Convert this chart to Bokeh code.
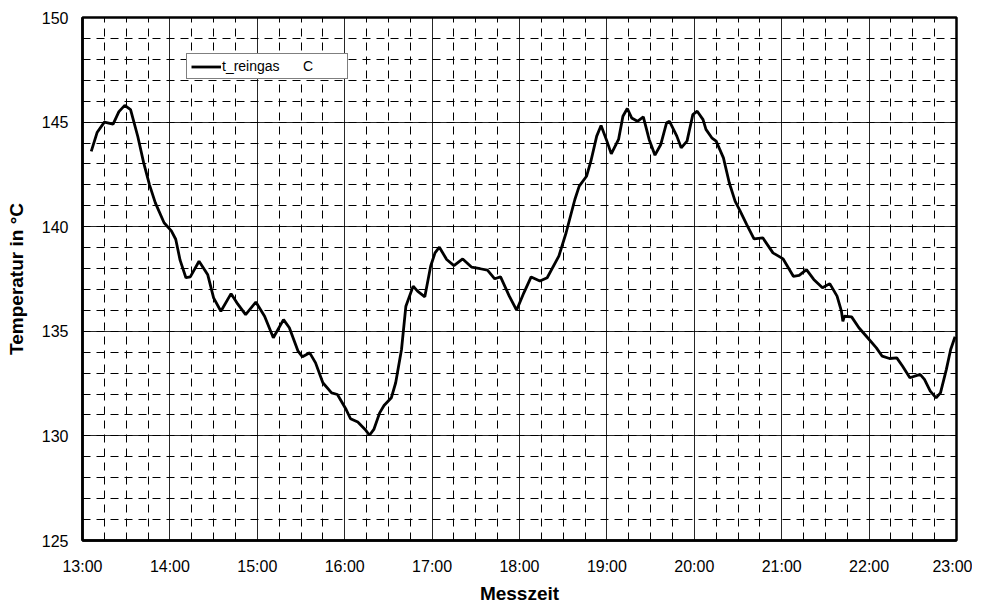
from bokeh.plotting import figure
from bokeh.models import FixedTicker, Range1d
from bokeh.embed import file_html
from bokeh.resources import INLINE

# ---- data ----
times = ["13:06", "13:10", "13:15", "13:21", "13:25", "13:29", "13:33", "13:38", "13:42", "13:46",
         "13:50", "13:56", "14:01", "14:04", "14:07", "14:11", "14:14", "14:20", "14:26", "14:30",
         "14:35", "14:42", "14:46", "14:52", "14:59", "15:05", "15:11", "15:18", "15:22", "15:28",
         "15:31", "15:36", "15:40", "15:45", "15:51", "15:55", "16:01", "16:04", "16:09", "16:14",
         "16:17", "16:20", "16:24", "16:27", "16:32", "16:35", "16:39", "16:42", "16:47", "16:50",
         "16:55", "16:59", "17:02", "17:05", "17:10", "17:15", "17:21", "17:27", "17:33", "17:38",
         "17:43", "17:47", "17:53", "17:58", "18:03", "18:08", "18:14", "18:19", "18:27", "18:32",
         "18:38", "18:41", "18:46", "18:49", "18:53", "18:56", "19:00", "19:03", "19:08", "19:11",
         "19:14", "19:17", "19:21", "19:25", "19:29", "19:33", "19:37", "19:41", "19:43", "19:48",
         "19:51", "19:55", "19:59", "20:02", "20:06", "20:08", "20:12", "20:15", "20:20", "20:24",
         "20:28", "20:31", "20:36", "20:41", "20:47", "20:54", "21:01", "21:08", "21:12", "21:17",
         "21:22", "21:28", "21:33", "21:38", "21:41", "21:42", "21:43", "21:48", "21:53", "21:59",
         "22:05", "22:09", "22:14", "22:19", "22:23", "22:28", "22:35", "22:38", "22:42", "22:46",
         "22:49", "22:53", "22:56", "22:59"]
t_reingas = [143.6, 144.5, 145.0, 144.9, 145.5, 145.8, 145.6, 144.3, 143.05, 142.0,
             141.14, 140.19, 139.8, 139.4, 138.4, 137.56, 137.6, 138.35, 137.7, 136.6,
             135.96, 136.8, 136.36, 135.8, 136.4, 135.72, 134.69, 135.56, 135.17, 134.05,
             133.78, 133.97, 133.49, 132.54, 132.06, 131.98, 131.26, 130.82, 130.66, 130.31,
             130.03, 130.31, 131.1, 131.45, 131.82, 132.54, 134.13, 136.2, 137.16, 136.92,
             136.65, 138.11, 138.75, 139.02, 138.43, 138.14, 138.46, 138.07, 137.99, 137.92,
             137.51, 137.6, 136.68, 136.01, 136.84, 137.6, 137.4, 137.56, 138.59, 139.71,
             141.3, 141.94, 142.41, 143.13, 144.33, 144.84, 144.09, 143.48, 144.17, 145.28,
             145.65, 145.2, 145.04, 145.25, 144.17, 143.42, 143.93, 144.97, 145.04, 144.33,
             143.77, 144.09, 145.36, 145.52, 145.12, 144.65, 144.25, 144.09, 143.29, 142.1,
             141.22, 140.82, 140.1, 139.42, 139.47, 138.75, 138.46, 137.63, 137.67, 137.95,
             137.48, 137.08, 137.28, 136.68, 135.96, 135.48, 135.72, 135.69, 135.17, 134.69,
             134.21, 133.81, 133.7, 133.73, 133.33, 132.78, 132.94, 132.7, 132.14, 131.82,
             132.06, 133.17, 134.13, 134.74]

x_tick_hours = [13, 14, 15, 16, 17, 18, 19, 20, 21, 22, 23]
x_tick_labels = ["13:00", "14:00", "15:00", "16:00", "17:00", "18:00",
                 "19:00", "20:00", "21:00", "22:00", "23:00"]
y_ticks = [125, 130, 135, 140, 145, 150]
series_label = "t_reingas"
unit_label = "C"


def to_hours(s):
    h, m = s.split(":")
    return int(h) + int(m) / 60.0


xs = [to_hours(t) for t in times]

p = figure(frame_width=874, frame_height=523, output_backend="svg", toolbar_location=None,
           x_range=Range1d(13, 23), y_range=Range1d(125, 150),
           min_border_left=82, min_border_right=16, min_border_top=17, min_border_bottom=58)
p.background_fill_color = "white"
p.border_fill_color = "white"
p.outline_line_color = "black"
p.outline_line_width = 2.5

font = "Liberation Sans"

# x axis
p.xaxis.ticker = FixedTicker(ticks=x_tick_hours,
                             minor_ticks=[h + q / 4 for h in x_tick_hours[:-1] for q in range(1, 4)])
p.xaxis.major_label_overrides = {h: lab for h, lab in zip(x_tick_hours, x_tick_labels)}
p.yaxis.ticker = FixedTicker(ticks=y_ticks, minor_ticks=list(range(125, 151)))

for ax in (p.xaxis, p.yaxis):
    ax.major_tick_line_color = None
    ax.minor_tick_line_color = None
    ax.major_tick_out = 0
    ax.major_tick_in = 0
    ax.minor_tick_out = 0
    ax.minor_tick_in = 0
    ax.axis_line_color = "black"
    ax.axis_line_width = 2.5
    ax.major_label_text_font = font
    ax.major_label_text_font_size = "16px"
    ax.major_label_text_color = "black"
    ax.axis_label_text_font = font
    ax.axis_label_text_font_size = "19px"
    ax.axis_label_text_font_style = "bold"
    ax.axis_label_text_color = "black"

p.xaxis.axis_label = "Messzeit"
p.xaxis.major_label_standoff = 17
p.xaxis.axis_label_standoff = 5
p.yaxis.axis_label = "Temperatur in °C"
p.yaxis.major_label_standoff = 14
p.yaxis.axis_label_standoff = 12

# grids
for g in (p.xgrid, p.ygrid):
    g.grid_line_color = "black"
    g.grid_line_width = 1
    g.grid_line_alpha = 0.85
    g.minor_grid_line_color = "black"
    g.minor_grid_line_width = 1
    g.minor_grid_line_dash = "8 6"

p.line(xs, t_reingas, line_color="black", line_width=2.8,
       legend_label=series_label + "\u00a0" * 6 + unit_label)

leg = p.legend[0]
leg.location = (104, 461)
leg.margin = 0
leg.padding = 4
leg.spacing = 0
leg.glyph_width = 30
leg.glyph_height = 15
leg.label_height = 15
leg.label_width = 121
leg.label_standoff = 1
leg.label_text_font = font
leg.label_text_font_size = "14px"
leg.label_text_color = "black"
leg.border_line_color = "black"
leg.border_line_width = 1
leg.background_fill_color = "white"
leg.background_fill_alpha = 1

open("out.html", "w").write(file_html(p, INLINE))
